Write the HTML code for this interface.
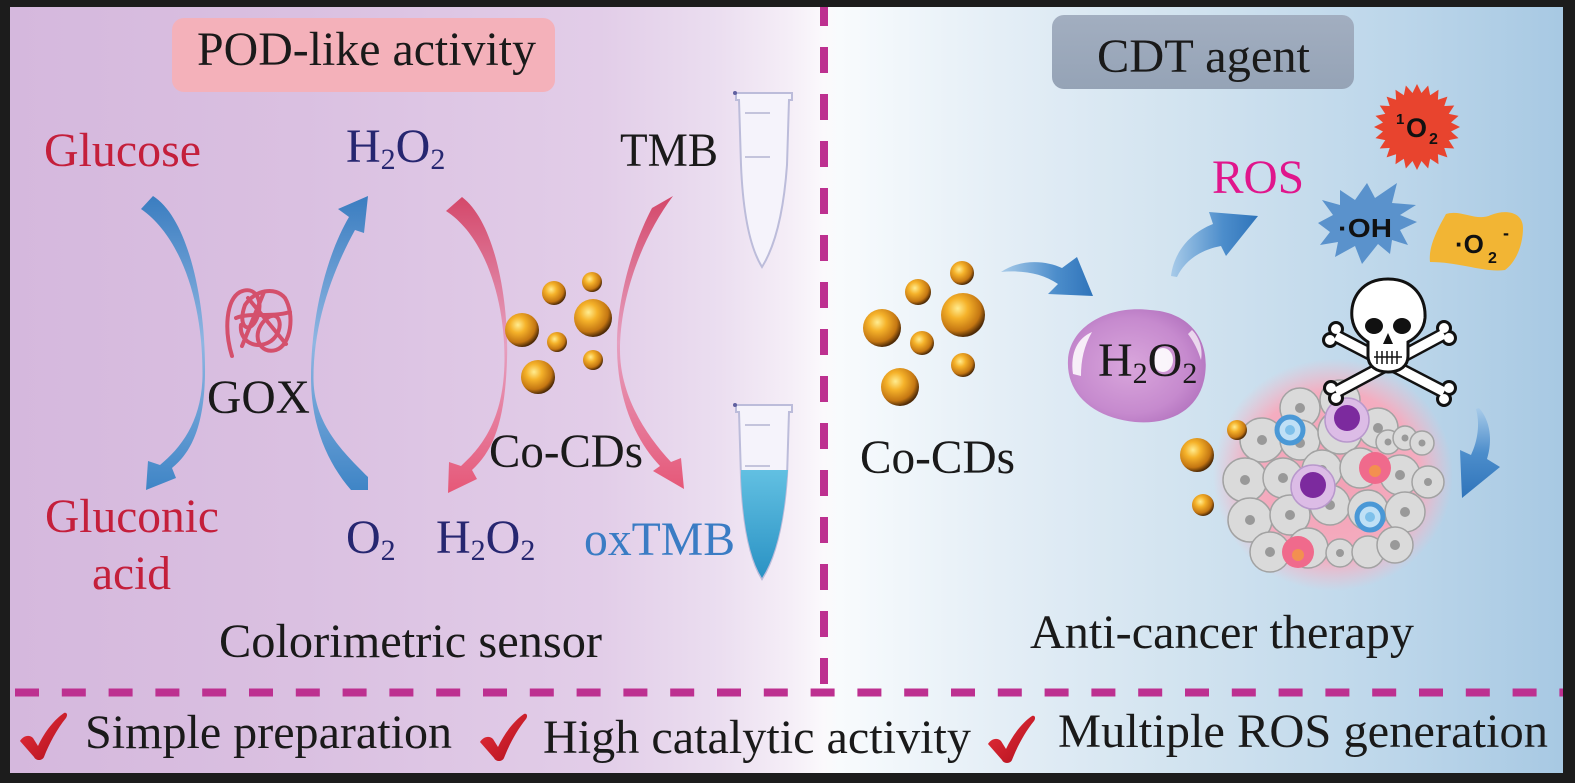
<!DOCTYPE html>
<html><head><meta charset="utf-8">
<style>
html,body{margin:0;padding:0;background:#1c1c1c;}
svg{display:block;}
.s{font-family:"Liberation Serif","Times New Roman",serif;}
.b{font-family:"Liberation Sans",Arial,sans-serif;font-weight:bold;}
</style></head>
<body>
<svg width="1575" height="783" viewBox="0 0 1575 783" xmlns="http://www.w3.org/2000/svg">
<defs>
 <linearGradient id="bg" x1="0" y1="0" x2="1575" y2="0" gradientUnits="userSpaceOnUse">
  <stop offset="0.006" stop-color="#d5b8dd"/>
  <stop offset="0.19" stop-color="#dac0e1"/>
  <stop offset="0.381" stop-color="#e2cde8"/>
  <stop offset="0.457" stop-color="#ebdef0"/>
  <stop offset="0.502" stop-color="#f5eef7"/>
  <stop offset="0.523" stop-color="#fbf9fc"/>
  <stop offset="0.533" stop-color="#f8fbfd"/>
  <stop offset="0.635" stop-color="#e4eef6"/>
  <stop offset="0.762" stop-color="#d0e2ef"/>
  <stop offset="0.889" stop-color="#bcd6ea"/>
  <stop offset="0.99" stop-color="#a8c9e3"/>
 </linearGradient>
 <radialGradient id="ball" cx="0.38" cy="0.35" r="0.66">
  <stop offset="0" stop-color="#ffec90"/>
  <stop offset="0.35" stop-color="#f5b22a"/>
  <stop offset="0.78" stop-color="#c47612"/>
  <stop offset="1" stop-color="#4e2a06"/>
 </radialGradient>
 <linearGradient id="blu" x1="0" y1="0" x2="0" y2="1">
  <stop offset="0" stop-color="#3a7dc0"/>
  <stop offset="0.5" stop-color="#8fb6e2"/>
  <stop offset="1" stop-color="#3f85c6"/>
 </linearGradient>
 <linearGradient id="red" x1="0" y1="0" x2="0" y2="1">
  <stop offset="0" stop-color="#d4486a"/>
  <stop offset="0.5" stop-color="#e6a0c0"/>
  <stop offset="1" stop-color="#e65878"/>
 </linearGradient>
 <linearGradient id="arrH" x1="0" y1="0" x2="1" y2="0">
  <stop offset="0" stop-color="#a8cbe9"/>
  <stop offset="0.6" stop-color="#4c8dcb"/>
  <stop offset="1" stop-color="#2f74ba"/>
 </linearGradient>
 <linearGradient id="arrV" x1="0" y1="0" x2="0" y2="1">
  <stop offset="0" stop-color="#a8cbe9"/>
  <stop offset="0.5" stop-color="#4c8dcb"/>
  <stop offset="1" stop-color="#2f74ba"/>
 </linearGradient>
 <linearGradient id="liq" x1="0" y1="0" x2="0" y2="1">
  <stop offset="0" stop-color="#62c0e2"/>
  <stop offset="1" stop-color="#2a92c4"/>
 </linearGradient>
 <radialGradient id="drop" cx="0.45" cy="0.5" r="0.6">
  <stop offset="0" stop-color="#d9a6dc"/>
  <stop offset="0.7" stop-color="#c68ace"/>
  <stop offset="1" stop-color="#b272be"/>
 </radialGradient>
 <radialGradient id="glow" cx="0.5" cy="0.5" r="0.5">
  <stop offset="0" stop-color="#f3a0b4"/>
  <stop offset="0.72" stop-color="#f4adc0"/>
  <stop offset="1" stop-color="#f4b8c8" stop-opacity="0"/>
 </radialGradient>
 <linearGradient id="chk" x1="0" y1="0" x2="1" y2="1">
  <stop offset="0" stop-color="#e8303c"/>
  <stop offset="1" stop-color="#b0101c"/>
 </linearGradient>
 <linearGradient id="cdt" x1="0" y1="0" x2="0" y2="1">
  <stop offset="0" stop-color="#a2aec0"/>
  <stop offset="1" stop-color="#95a3b6"/>
 </linearGradient>
</defs>

<rect width="1575" height="783" fill="#1c1c1c"/>
<rect x="10" y="7" width="1553" height="766" fill="url(#bg)"/>

<!-- title boxes -->
<rect x="172" y="18" width="383" height="74" rx="12" fill="#f4b1ba"/>
<rect x="1052" y="15" width="302" height="74" rx="12" fill="url(#cdt)"/>
<text class="s" x="197" y="65" font-size="48" fill="#1a1a1a" textLength="339" lengthAdjust="spacingAndGlyphs">POD-like activity</text>
<text class="s" x="1097" y="72" font-size="48" fill="#1a1a1a" textLength="213" lengthAdjust="spacingAndGlyphs">CDT agent</text>

<!-- dashed separators -->
<line x1="824" y1="7" x2="824" y2="688" stroke="#bd3090" stroke-width="8" stroke-dasharray="26 21" stroke-dashoffset="7"/>
<line x1="10" y1="692.5" x2="1563" y2="692.5" stroke="#bd3090" stroke-width="8" stroke-dasharray="24 22.8" stroke-dashoffset="41.8"/>

<!-- left arcs -->
<path d="M153,196 C188,218 206,300 205,375 C204,425 192,452 172,468 L176,478 L146,490 L148,461 L160,465 C182,447 202,420 202.5,375 C203,300 180,236 141,209 Z" fill="url(#blu)"/>
<path d="M349,217 C325,258 311,320 311,378 C311,425 327,462 351,490 L368,490 L368,477 C343,452 313.5,424 313.5,378 C313.5,322 333,270 355,230 L364,233 L368,196 L338,209 Z" fill="url(#blu)"/>
<path d="M462,197 C495,222 509,300 507,360 C505,420 494,450 472,470 L477,479 L448,493 L449,462 L461,466 C483,446 504,418 504.5,360 C505,300 485,236 446,211 Z" fill="url(#red)"/>
<path d="M673,196 L652,208 C630,250 616,305 617,350 C618,400 635,440 660,466 L653,471 L684,489 L681,458 L671,462 C645,434 620,395 620,350 C620,300 640,240 673,196 Z" fill="url(#red)"/>

<!-- GOX coil -->
<g fill="none" stroke="#d4506c" stroke-width="4" stroke-linecap="round" stroke-linejoin="round">
 <path d="M232,356 C224,330 226,300 240,292 C255,285 263,300 258,315 C252,335 236,330 245,305 C255,290 275,286 285,298 C295,315 291,345 276,350 C260,355 250,335 265,320 C280,306 286,330 271,341 C256,351 239,341 241,325"/>
 <path d="M248,298 L286,344"/>
 <path d="M264,292 L242,346"/>
 <path d="M236,318 C250,312 270,318 290,312"/>
</g>

<!-- left balls -->
<g fill="url(#ball)">
 <circle cx="522" cy="330" r="17"/>
 <circle cx="554" cy="293" r="12"/>
 <circle cx="592" cy="282" r="10"/>
 <circle cx="593" cy="318" r="19"/>
 <circle cx="557" cy="342" r="10"/>
 <circle cx="593" cy="360" r="10"/>
 <circle cx="538" cy="377" r="17"/>
</g>

<!-- tubes -->
<g>
 <path d="M736,93 L792,93 L792,100 L789,100 L787,165 Q782,235 762,267 Q744,238 741,165 L739,100 L736,100 Z" fill="#f5f3fb" stroke="#bcbcda" stroke-width="2"/>
 <line x1="745" y1="113" x2="770" y2="113" stroke="#c4c4dc" stroke-width="2"/>
 <line x1="745" y1="157" x2="770" y2="157" stroke="#c4c4dc" stroke-width="2"/>
 <circle cx="735" cy="93" r="2" fill="#6060a0"/>
 <path d="M736,405 L792,405 L792,412 L789,412 L787,477 Q782,547 762,579 Q744,550 741,477 L739,412 L736,412 Z" fill="#f5f3fb" stroke="#bcbcda" stroke-width="2"/>
 <path d="M741,470 L788,470 L787,478 Q782,547 762,578 Q744,550 741,478 Z" fill="url(#liq)"/>
 <line x1="745" y1="425" x2="770" y2="425" stroke="#c4c4dc" stroke-width="2"/>
 <line x1="745" y1="466" x2="770" y2="466" stroke="#c4c4dc" stroke-width="2"/>
 <circle cx="735" cy="405" r="2" fill="#6060a0"/>
</g>

<!-- left texts -->
<g class="s" font-size="48">
 <text class="s" x="44" y="166" fill="#c41f3b" textLength="157" lengthAdjust="spacingAndGlyphs">Glucose</text>
 <text class="s" x="346" y="162" fill="#262670">H<tspan font-size="30" dy="7">2</tspan><tspan dy="-7">O</tspan><tspan font-size="30" dy="7">2</tspan></text>
 <text class="s" x="620" y="166" fill="#1a1a1a" textLength="98" lengthAdjust="spacingAndGlyphs">TMB</text>
 <text class="s" x="207" y="413" fill="#1a1a1a" textLength="103" lengthAdjust="spacingAndGlyphs">GOX</text>
 <text class="s" x="489" y="467" fill="#1a1a1a" textLength="154" lengthAdjust="spacingAndGlyphs">Co-CDs</text>
 <text class="s" x="45" y="532" fill="#c41f3b" textLength="174" lengthAdjust="spacingAndGlyphs">Gluconic</text>
 <text class="s" x="92" y="589" fill="#c41f3b" textLength="79" lengthAdjust="spacingAndGlyphs">acid</text>
 <text class="s" x="346" y="553" fill="#262670">O<tspan font-size="30" dy="7">2</tspan></text>
 <text class="s" x="436" y="553" fill="#262670">H<tspan font-size="30" dy="7">2</tspan><tspan dy="-7">O</tspan><tspan font-size="30" dy="7">2</tspan></text>
 <text class="s" x="584" y="555" fill="#3a7cc4" textLength="151" lengthAdjust="spacingAndGlyphs">oxTMB</text>
 <text class="s" x="219" y="657" fill="#1a1a1a" textLength="383" lengthAdjust="spacingAndGlyphs">Colorimetric sensor</text>
</g>

<!-- right panel: balls -->
<g fill="url(#ball)">
 <circle cx="882" cy="328" r="19"/>
 <circle cx="918" cy="292" r="13"/>
 <circle cx="962" cy="273" r="12"/>
 <circle cx="963" cy="315" r="22"/>
 <circle cx="922" cy="343" r="12"/>
 <circle cx="963" cy="365" r="12"/>
 <circle cx="900" cy="387" r="19"/>
</g>

<!-- right arrows -->
<path d="M1001,272 C1020,259 1045,260 1062,268 L1077,257 L1093,296 L1048,294 L1058,284 C1042,273 1022,270 1001,272 Z" fill="url(#arrH)"/>
<path d="M1171,276 C1174,252 1190,233 1213,224 L1209,212 L1258,216 L1226,256 L1221,246 C1199,250 1184,262 1177,277 Z" fill="url(#arrH)"/>
<path d="M1479,408 C1490,420 1493,440 1487,459 L1500,467 L1462,498 L1460,450 L1471,455 C1478,440 1480,424 1476,409 Z" fill="url(#arrV)"/>

<!-- droplet -->
<path d="M1068,360 C1070,325 1110,305 1150,310 C1190,312 1210,340 1205,375 C1200,410 1170,425 1135,422 C1095,418 1066,395 1068,360 Z" fill="url(#drop)"/>
<path d="M1073,374 C1070,352 1078,338 1092,332 C1084,346 1081,360 1081,376 Z" fill="#ffffff" opacity="0.85"/>
<ellipse cx="1163" cy="360" rx="10" ry="12" fill="#ffffff" opacity="0.9"/>
<path d="M1192,330 C1200,338 1203,350 1201,360 C1198,350 1194,342 1188,334 Z" fill="#ffffff" opacity="0.7"/>
<text class="s" x="1098" y="376" font-size="48" fill="#1a1a1a">H<tspan font-size="30" dy="7">2</tspan><tspan dy="-7">O</tspan><tspan font-size="30" dy="7">2</tspan></text>

<text class="s" x="1212" y="193" font-size="48" fill="#e0168c" textLength="92" lengthAdjust="spacingAndGlyphs">ROS</text>
<text class="s" x="860" y="473" font-size="48" fill="#1a1a1a" textLength="155" lengthAdjust="spacingAndGlyphs">Co-CDs</text>
<text class="s" x="1030" y="648" font-size="48" fill="#1a1a1a" textLength="384" lengthAdjust="spacingAndGlyphs">Anti-cancer therapy</text>

<!-- 1O2 star -->
<g transform="translate(1417,127)" fill="#e8442e">
 <circle r="34"/>
 <g>
  <polygon points="-5,-33 0,-43 5,-33"/>
  <polygon points="-5,-33 0,-43 5,-33" transform="rotate(15)"/>
  <polygon points="-5,-33 0,-43 5,-33" transform="rotate(30)"/>
  <polygon points="-5,-33 0,-43 5,-33" transform="rotate(45)"/>
  <polygon points="-5,-33 0,-43 5,-33" transform="rotate(60)"/>
  <polygon points="-5,-33 0,-43 5,-33" transform="rotate(75)"/>
  <polygon points="-5,-33 0,-43 5,-33" transform="rotate(90)"/>
  <polygon points="-5,-33 0,-43 5,-33" transform="rotate(105)"/>
  <polygon points="-5,-33 0,-43 5,-33" transform="rotate(120)"/>
  <polygon points="-5,-33 0,-43 5,-33" transform="rotate(135)"/>
  <polygon points="-5,-33 0,-43 5,-33" transform="rotate(150)"/>
  <polygon points="-5,-33 0,-43 5,-33" transform="rotate(165)"/>
  <polygon points="-5,-33 0,-43 5,-33" transform="rotate(180)"/>
  <polygon points="-5,-33 0,-43 5,-33" transform="rotate(195)"/>
  <polygon points="-5,-33 0,-43 5,-33" transform="rotate(210)"/>
  <polygon points="-5,-33 0,-43 5,-33" transform="rotate(225)"/>
  <polygon points="-5,-33 0,-43 5,-33" transform="rotate(240)"/>
  <polygon points="-5,-33 0,-43 5,-33" transform="rotate(255)"/>
  <polygon points="-5,-33 0,-43 5,-33" transform="rotate(270)"/>
  <polygon points="-5,-33 0,-43 5,-33" transform="rotate(285)"/>
  <polygon points="-5,-33 0,-43 5,-33" transform="rotate(300)"/>
  <polygon points="-5,-33 0,-43 5,-33" transform="rotate(315)"/>
  <polygon points="-5,-33 0,-43 5,-33" transform="rotate(330)"/>
  <polygon points="-5,-33 0,-43 5,-33" transform="rotate(345)"/>
 </g>
</g>
<text class="b" x="1396" y="124" font-size="15" fill="#111">1</text>
<text class="b" x="1406" y="137" font-size="27" fill="#111">O</text>
<text class="b" x="1429" y="144" font-size="16" fill="#111">2</text>

<!-- OH splat -->
<polygon points="1367,183 1375,198 1397,183 1392,203 1416,205 1400,215 1417,222 1400,230 1408,245 1392,240 1390,254 1378,244 1362,264 1355,246 1335,257 1338,242 1320,245 1330,232 1318,223 1333,215 1322,200 1340,205 1340,190 1355,200" fill="#5a92cc"/>
<text class="b" x="1338" y="237" font-size="26" fill="#111" textLength="54" lengthAdjust="spacingAndGlyphs">·OH</text>

<!-- O2- blob -->
<path d="M1430,262 C1428,245 1440,225 1446,214 C1461,209 1476,222 1491,215 C1506,209 1523,212 1523,228 C1523,245 1516,262 1505,270 C1485,273 1460,262 1430,262 Z" fill="#f2b534"/>
<text class="b" x="1455" y="253" font-size="26" fill="#111">·O</text>
<text class="b" x="1488" y="263" font-size="16" fill="#111">2</text>
<text class="b" x="1503" y="239" font-size="18" fill="#111">-</text>

<!-- tumor -->
<ellipse cx="1333" cy="475" rx="120" ry="116" fill="url(#glow)"/>
<g fill="#dadada" stroke="#a2a2a2" stroke-width="1.5">
 <circle cx="1300" cy="408" r="20"/><circle cx="1340" cy="400" r="20"/>
 <circle cx="1262" cy="440" r="22"/><circle cx="1300" cy="440" r="20"/><circle cx="1340" cy="432" r="22"/><circle cx="1378" cy="428" r="20"/>
 <circle cx="1245" cy="480" r="22"/><circle cx="1283" cy="478" r="20"/><circle cx="1322" cy="470" r="20"/><circle cx="1360" cy="468" r="20"/><circle cx="1400" cy="475" r="20"/><circle cx="1428" cy="482" r="16"/>
 <circle cx="1250" cy="520" r="22"/><circle cx="1290" cy="515" r="20"/><circle cx="1330" cy="505" r="20"/><circle cx="1368" cy="510" r="20"/><circle cx="1405" cy="512" r="20"/>
 <circle cx="1270" cy="552" r="20"/><circle cx="1308" cy="548" r="20"/><circle cx="1340" cy="553" r="14"/><circle cx="1368" cy="552" r="16"/><circle cx="1395" cy="545" r="18"/>
 <circle cx="1388" cy="442" r="12"/><circle cx="1405" cy="438" r="12"/><circle cx="1422" cy="443" r="12"/>
</g>
<g fill="#999999">
 <circle cx="1300" cy="408" r="5"/><circle cx="1262" cy="440" r="5"/><circle cx="1300" cy="443" r="5"/><circle cx="1378" cy="428" r="5"/>
 <circle cx="1245" cy="480" r="5"/><circle cx="1283" cy="478" r="5"/><circle cx="1322" cy="470" r="5"/><circle cx="1400" cy="475" r="5"/><circle cx="1428" cy="482" r="4"/>
 <circle cx="1250" cy="520" r="5"/><circle cx="1290" cy="515" r="5"/><circle cx="1330" cy="505" r="5"/><circle cx="1405" cy="512" r="5"/>
 <circle cx="1270" cy="552" r="5"/><circle cx="1308" cy="548" r="5"/><circle cx="1340" cy="553" r="4"/><circle cx="1395" cy="545" r="5"/>
 <circle cx="1388" cy="442" r="3.5"/><circle cx="1405" cy="438" r="3.5"/><circle cx="1422" cy="443" r="3.5"/>
</g>
<!-- special cells -->
<g>
 <circle cx="1347" cy="420" r="22" fill="#dcbce6" stroke="#b898cc" stroke-width="1.5"/>
 <circle cx="1347" cy="418" r="13" fill="#7c2a9e"/>
 <circle cx="1313" cy="487" r="22" fill="#dcbce6" stroke="#b898cc" stroke-width="1.5"/>
 <circle cx="1313" cy="485" r="13" fill="#7c2a9e"/>
 <circle cx="1290" cy="430" r="13" fill="#bfe0f6" stroke="#4a98d6" stroke-width="5"/>
 <circle cx="1290" cy="430" r="5" fill="#7ec0ea"/>
 <circle cx="1370" cy="517" r="13" fill="#bfe0f6" stroke="#4a98d6" stroke-width="5"/>
 <circle cx="1370" cy="517" r="5" fill="#7ec0ea"/>
 <circle cx="1375" cy="468" r="16" fill="#f06a8c"/>
 <circle cx="1375" cy="471" r="6" fill="#f39050"/>
 <circle cx="1298" cy="552" r="16" fill="#f06a8c"/>
 <circle cx="1298" cy="555" r="6" fill="#f39050"/>
</g>
<g fill="url(#ball)">
 <circle cx="1197" cy="455" r="17"/>
 <circle cx="1237" cy="430" r="10"/>
 <circle cx="1203" cy="505" r="11"/>
</g>

<!-- skull & crossbones -->
<g stroke="#111" fill="#111">
 <line x1="1336" y1="336" x2="1444" y2="392" stroke-width="14"/>
 <line x1="1444" y1="334" x2="1336" y2="392" stroke-width="14"/>
 <circle cx="1336" cy="329" r="7.5"/><circle cx="1330" cy="340" r="7.5"/>
 <circle cx="1449" cy="388" r="7.5"/><circle cx="1444" cy="399" r="7.5"/>
 <circle cx="1449" cy="338" r="7.5"/><circle cx="1444" cy="328" r="7.5"/>
 <circle cx="1336" cy="398" r="7.5"/><circle cx="1331" cy="388" r="7.5"/>
</g>
<g stroke="#ffffff" fill="#ffffff">
 <line x1="1336" y1="336" x2="1444" y2="392" stroke-width="9"/>
 <line x1="1444" y1="334" x2="1336" y2="392" stroke-width="9"/>
 <circle cx="1336" cy="329" r="5" stroke="none"/><circle cx="1330" cy="340" r="5" stroke="none"/>
 <circle cx="1449" cy="388" r="5" stroke="none"/><circle cx="1444" cy="399" r="5" stroke="none"/>
 <circle cx="1449" cy="338" r="5" stroke="none"/><circle cx="1444" cy="328" r="5" stroke="none"/>
 <circle cx="1336" cy="398" r="5" stroke="none"/><circle cx="1331" cy="388" r="5" stroke="none"/>
</g>
<path d="M1388,279 C1362,279 1350,298 1352,318 C1354,332 1362,338 1368,342 L1368,356 C1368,366 1376,372 1388,372 C1400,372 1408,366 1408,356 L1408,342 C1416,338 1424,330 1425,318 C1426,298 1414,279 1388,279 Z" fill="#ffffff" stroke="#111" stroke-width="3"/>
<ellipse cx="1374" cy="326" rx="9" ry="8" fill="#111"/>
<ellipse cx="1402" cy="326" rx="9" ry="8" fill="#111"/>
<path d="M1388,333 L1383,344 L1393,344 Z" fill="#111"/>
<g stroke="#111" stroke-width="1.5">
 <line x1="1374" y1="357" x2="1402" y2="357"/>
 <line x1="1377" y1="351" x2="1377" y2="364"/><line x1="1382" y1="351" x2="1382" y2="364"/>
 <line x1="1387" y1="351" x2="1387" y2="364"/><line x1="1392" y1="351" x2="1392" y2="364"/>
 <line x1="1397" y1="351" x2="1397" y2="364"/>
</g>

<!-- bottom row checkmarks -->
<path transform="translate(20,713)" d="M0,28 C3,23 9,21 13,25 L18,33 C25,18 35,6 44,0 C47,-1 48,2 46,5 C37,16 29,31 24,44 C22,48 16,48 14,44 Z" fill="url(#chk)"/>
<path transform="translate(480,714)" d="M0,28 C3,23 9,21 13,25 L18,33 C25,18 35,6 44,0 C47,-1 48,2 46,5 C37,16 29,31 24,44 C22,48 16,48 14,44 Z" fill="url(#chk)"/>
<path transform="translate(988,716)" d="M0,28 C3,23 9,21 13,25 L18,33 C25,18 35,6 44,0 C47,-1 48,2 46,5 C37,16 29,31 24,44 C22,48 16,48 14,44 Z" fill="url(#chk)"/>
<text class="s" x="85" y="748" font-size="48" fill="#1a1a1a" textLength="367" lengthAdjust="spacingAndGlyphs">Simple preparation</text>
<text class="s" x="543" y="753" font-size="48" fill="#1a1a1a" textLength="428" lengthAdjust="spacingAndGlyphs">High catalytic activity</text>
<text class="s" x="1058" y="747" font-size="48" fill="#1a1a1a" textLength="490" lengthAdjust="spacingAndGlyphs">Multiple ROS generation</text>
</svg>
</body></html>
